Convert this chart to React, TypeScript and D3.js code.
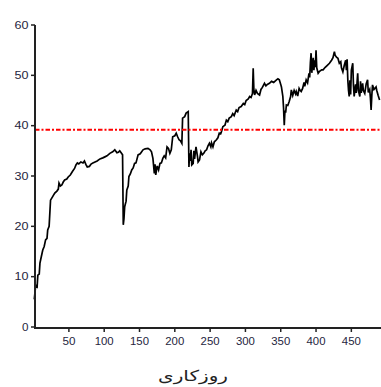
import React from "react";
import * as d3 from "d3";

const WIDTH = 381;
const HEIGHT = 387;

// Working day index and the employment level observed on that day
const days = [
  1, 3, 5, 6, 8, 9, 11, 13, 15, 17, 19, 20, 22, 24, 27, 30, 33, 35, 36, 38,
  40, 42, 44, 47, 49, 52, 55, 58, 60, 62, 64, 67, 70, 72, 74, 76, 79, 81, 84, 87,
  90, 94, 98, 101, 104, 108, 112, 115, 118, 120, 122, 124, 126, 127, 128, 129, 131, 132, 134, 135,
  137, 139, 141, 143, 145, 148, 151, 155, 158, 162, 165, 167, 169, 171, 172, 173, 175, 177, 179, 181,
  183, 185, 187, 189, 191, 193, 195, 197, 200, 202, 204, 206, 208, 210, 211, 214, 216, 219, 220, 221,
  222, 223, 224, 226, 227, 228, 230, 232, 233, 235, 237, 239, 241, 243, 245, 247, 249, 251, 252, 254,
  256, 259, 261, 263, 265, 266, 268, 271, 273, 275, 277, 280, 282, 284, 287, 289, 291, 294, 297, 299,
  301, 304, 306, 308, 310, 311, 312, 313, 315, 317, 320, 322, 324, 327, 329, 331, 334, 337, 340, 344,
  346, 348, 350, 351, 353, 354, 355, 356, 357, 358, 360, 362, 364, 365, 367, 369, 371, 372, 374, 376,
  377, 379, 381, 383, 384, 386, 388, 390, 391, 392, 393, 394, 396, 397, 398, 399, 400, 401, 403, 405,
  408, 410, 413, 416, 419, 422, 424, 426, 427, 429, 431, 433, 435, 436, 438, 440, 442, 443, 444, 445,
  446, 447, 448, 449, 450, 452, 453, 454, 456, 457, 459, 460, 462, 463, 464, 466, 467, 469, 471, 473,
  474, 476, 477, 478, 479, 480, 482, 485, 486, 488, 490,
];

const employment = [
  5.5, 8.3, 8.0, 10.3, 10.5, 12.7, 14.0, 15.3, 16.0, 17.3, 17.6, 19.3, 20.0, 25.2, 25.9, 26.6, 27.0, 27.4, 28.6, 28.0,
  28.2, 28.8, 29.2, 29.4, 29.8, 30.2, 30.9, 31.5, 32.2, 32.6, 32.4, 32.8, 32.6, 33.0, 32.3, 31.8, 31.9, 32.3, 32.6, 32.8,
  33.0, 33.4, 33.6, 33.8, 34.0, 34.5, 34.8, 35.2, 34.6, 34.7, 35.0, 34.6, 34.2, 20.3, 21.5, 23.9, 25.0, 27.2, 28.0, 29.9,
  30.4, 31.2, 31.6, 32.5, 32.6, 34.2, 34.4, 35.2, 35.4, 35.5, 35.2, 34.8, 33.5, 30.5, 32.3, 30.2, 32.0, 31.2, 32.5, 32.6,
  33.5, 34.0, 33.6, 35.8, 35.5, 34.5, 35.2, 37.8, 38.0, 38.5, 37.8, 37.2, 37.0, 36.5, 41.5, 41.8, 42.5, 42.8, 31.8, 34.5,
  33.0, 35.2, 32.2, 32.5, 35.0, 33.4, 35.8, 34.0, 32.8, 33.2, 34.8, 34.2, 34.5, 35.0, 35.2, 36.0, 36.5, 35.8, 36.6, 35.8,
  36.8, 37.2, 37.6, 38.5, 38.4, 38.8, 39.8, 40.1, 41.1, 40.8, 41.5, 41.8, 42.4, 42.0, 43.1, 42.8, 43.6, 43.8, 44.4, 44.2,
  45.0, 45.3, 45.8, 45.6, 46.4, 51.4, 47.0, 46.1, 47.0, 46.4, 46.1, 47.2, 47.6, 48.4, 47.9, 48.2, 48.4, 48.8, 48.6, 49.1,
  49.3, 49.1, 48.2, 47.7, 45.8, 43.5, 40.1, 43.0, 42.6, 44.1, 44.0, 44.8, 45.8, 47.1, 46.0, 47.0, 46.3, 46.8, 45.9, 47.4,
  47.1, 46.8, 47.4, 48.6, 47.8, 49.1, 48.5, 50.4, 49.6, 52.5, 54.4, 50.5, 53.5, 51.0, 53.0, 51.6, 55.0, 51.5, 50.4, 50.8,
  51.1, 51.1, 51.6, 52.0, 52.4, 53.0, 53.5, 54.7, 54.0, 53.6, 53.4, 52.4, 52.7, 51.5, 50.7, 52.0, 53.0, 51.0, 53.2, 49.1,
  47.0, 45.8, 49.0, 46.2, 51.0, 52.4, 48.0, 45.8, 48.2, 46.5, 50.4, 47.0, 45.8, 48.8, 46.5, 48.4, 47.0, 46.4, 48.3, 49.1,
  46.6, 47.2, 45.5, 43.1, 46.0, 48.1, 47.2, 47.7, 47.0, 46.0, 45.1,
];

const referenceLevel = 39.2;
const xTicks = [50, 100, 150, 200, 250, 300, 350, 400, 450];
const yTicks = [0, 10, 20, 30, 40, 50, 60];
const xTitle = "روزکاری";

export default function App() {
  const x = d3.scaleLinear().domain([2, 492]).range([35, 381]);
  const y = d3.scaleLinear().domain([0, 60]).range([327, 25]);

  const points: [number, number][] = days.map((d, i) => [d, employment[i]]);
  const line = d3
    .line<[number, number]>()
    .x((p) => x(p[0]))
    .y((p) => y(p[1]))
    .curve(d3.curveLinear);

  const tickColor = "#262640";
  const axisColor = "#222";
  const tickFont = "Liberation Sans, Arial, sans-serif";

  return (
    <svg
      width={WIDTH}
      height={HEIGHT}
      style={{ position: "absolute", left: 0, top: 0, background: "#fff" }}
    >
      <rect width={WIDTH} height={HEIGHT} fill="#fff" />

      {/* series */}
      <path
        d={line(points) ?? ""}
        fill="none"
        stroke="#000"
        strokeWidth={1.7}
        strokeLinejoin="miter"
      />

      {/* reference level */}
      <line
        x1={x(2)}
        x2={x(492)}
        y1={y(referenceLevel)}
        y2={y(referenceLevel)}
        stroke="#ff0000"
        strokeWidth={2}
        strokeDasharray="4.5,2,2,2"
      />

      {/* y axis */}
      <line x1={35} x2={35} y1={y(60)} y2={y(0) + 1} stroke={axisColor} strokeWidth={2} />
      {yTicks.map((t) => (
        <g key={`y${t}`}>
          <line x1={31} x2={35} y1={y(t)} y2={y(t)} stroke={axisColor} strokeWidth={1.5} />
          <text
            x={28.5}
            y={y(t) + 1}
            textAnchor="end"
            fontFamily={tickFont}
            fontSize={10.5}
            fill={tickColor}
            dominantBaseline="middle"
            textLength={t === 0 ? 6.5 : 14}
            lengthAdjust="spacingAndGlyphs"
          >
            {t}
          </text>
        </g>
      ))}

      {/* x axis */}
      <line x1={34} x2={381} y1={y(0) + 1} y2={y(0) + 1} stroke={axisColor} strokeWidth={2} />
      {xTicks.map((t) => (
        <g key={`x${t}`}>
          <line x1={x(t)} x2={x(t)} y1={y(0) + 1} y2={y(0) + 5} stroke={axisColor} strokeWidth={1.5} />
          <text
            x={x(t)}
            y={345}
            textAnchor="middle"
            fontFamily={tickFont}
            fontSize={10.5}
            fill={tickColor}
            textLength={t < 100 ? 13 : 19}
            lengthAdjust="spacingAndGlyphs"
          >
            {t}
          </text>
        </g>
      ))}

      <text
        x={193}
        y={381}
        textAnchor="middle"
        fontFamily="DejaVu Sans, sans-serif"
        fontSize={15}
        fill="#222"
        textLength={70}
        lengthAdjust="spacingAndGlyphs"
      >
        {xTitle}
      </text>
    </svg>
  );
}
